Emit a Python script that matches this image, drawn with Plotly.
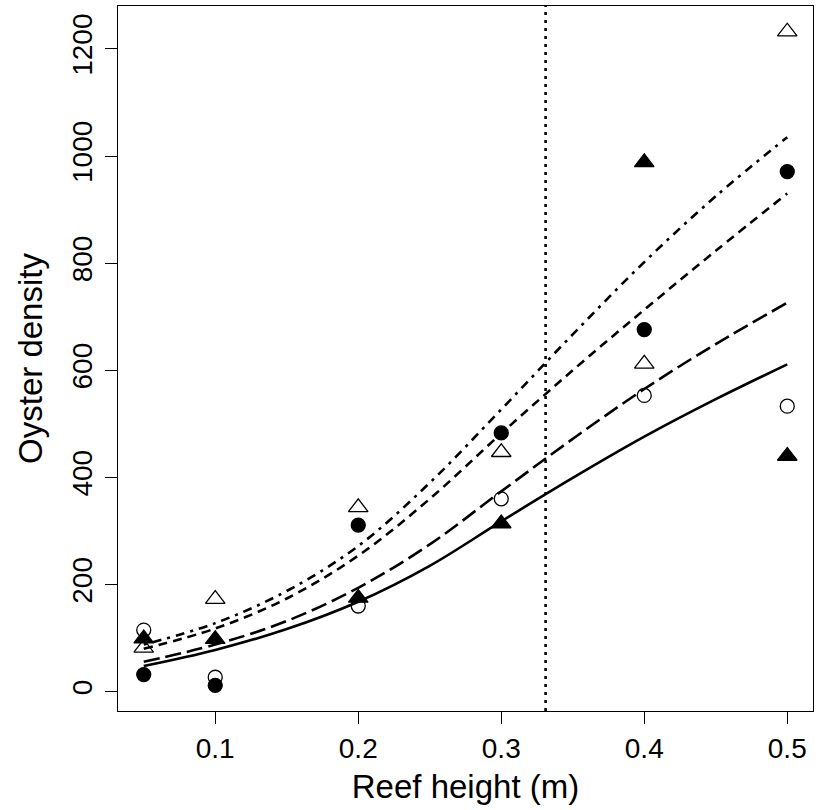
import plotly.graph_objects as go

# Observed data
heights = [0.05, 0.1, 0.2, 0.3, 0.4, 0.5]
open_circle = [115, 27, 160, 360, 553, 533]
filled_circle = [32, 12, 311, 483, 676, 971]
open_triangle = [82, 173, 344, 447, 612, 1232]
filled_triangle = [99, 98, 175, 314, 988, 440]

# Fitted curves
curve_x = [0.05, 0.1, 0.15, 0.2, 0.25, 0.3, 0.35, 0.4, 0.45, 0.5]
curve_solid = [48, 78, 117, 168, 235, 318, 399, 476, 546, 611]
curve_longdash = [56, 88, 132, 194, 275, 374, 472, 565, 649, 726]
curve_dash = [80, 118, 174, 254, 360, 482, 600, 713, 823, 930]
curve_dotdash = [88, 128, 188, 272, 390, 527, 667, 802, 925, 1035]

threshold = 0.331

x_ticks = [0.1, 0.2, 0.3, 0.4, 0.5]
y_ticks = [0, 200, 400, 600, 800, 1000, 1200]

fig = go.Figure()

curves = [
    (curve_solid, "solid"),
    (curve_longdash, "16px,6px"),
    (curve_dash, "9px,6px"),
    (curve_dotdash, "3px,6px,9px,6px"),
]
for ys, dash in curves:
    fig.add_trace(go.Scatter(x=curve_x, y=ys, mode="lines",
                             line=dict(color="black", width=2.6, dash=dash, shape="spline"),
                             showlegend=False, hoverinfo="skip"))

markers = [
    (open_circle, "circle-open", 14),
    (filled_circle, "circle", 14),
    (open_triangle, "triangle-up-open", 17),
    (filled_triangle, "triangle-up", 17),
]
for ys, sym, sz in markers:
    fig.add_trace(go.Scatter(x=heights, y=ys, mode="markers",
                             marker=dict(symbol=sym, size=sz, color="black",
                                         line=dict(color="black", width=1.3)),
                             showlegend=False))

fig.add_shape(type="line", x0=threshold, x1=threshold, y0=0, y1=1, yref="paper",
              line=dict(color="black", width=2.6, dash="3px,5px"))

font_family = "Liberation Sans, Arial, sans-serif"
fig.update_layout(
    width=824, height=810,
    margin=dict(l=118, r=11, t=6, b=99),
    plot_bgcolor="white", paper_bgcolor="white",
    font=dict(family=font_family, color="black"),
    xaxis=dict(range=[0.032, 0.518], tickvals=x_ticks, ticktext=[str(v) for v in x_ticks],
               showgrid=False, zeroline=False, showline=True, mirror=True,
               linecolor="black", linewidth=1.3, ticks="outside", ticklen=12,
               tickwidth=1.3, tickcolor="black", tickfont=dict(size=28),
               ticklabelstandoff=0,
               title=dict(text="Reef height (m)", font=dict(size=33), standoff=12)),
    yaxis=dict(range=[-36, 1280], tickvals=y_ticks, ticktext=[str(v) for v in y_ticks],
               showgrid=False, zeroline=False, showline=True, mirror=True,
               linecolor="black", linewidth=1.3, ticks="outside", ticklen=12,
               tickwidth=1.3, tickcolor="black", tickfont=dict(size=28),
               tickangle=-90, ticklabelstandoff=2,
               title=dict(text="Oyster density", font=dict(size=33), standoff=14)),
)

fig.write_html("out.html")
